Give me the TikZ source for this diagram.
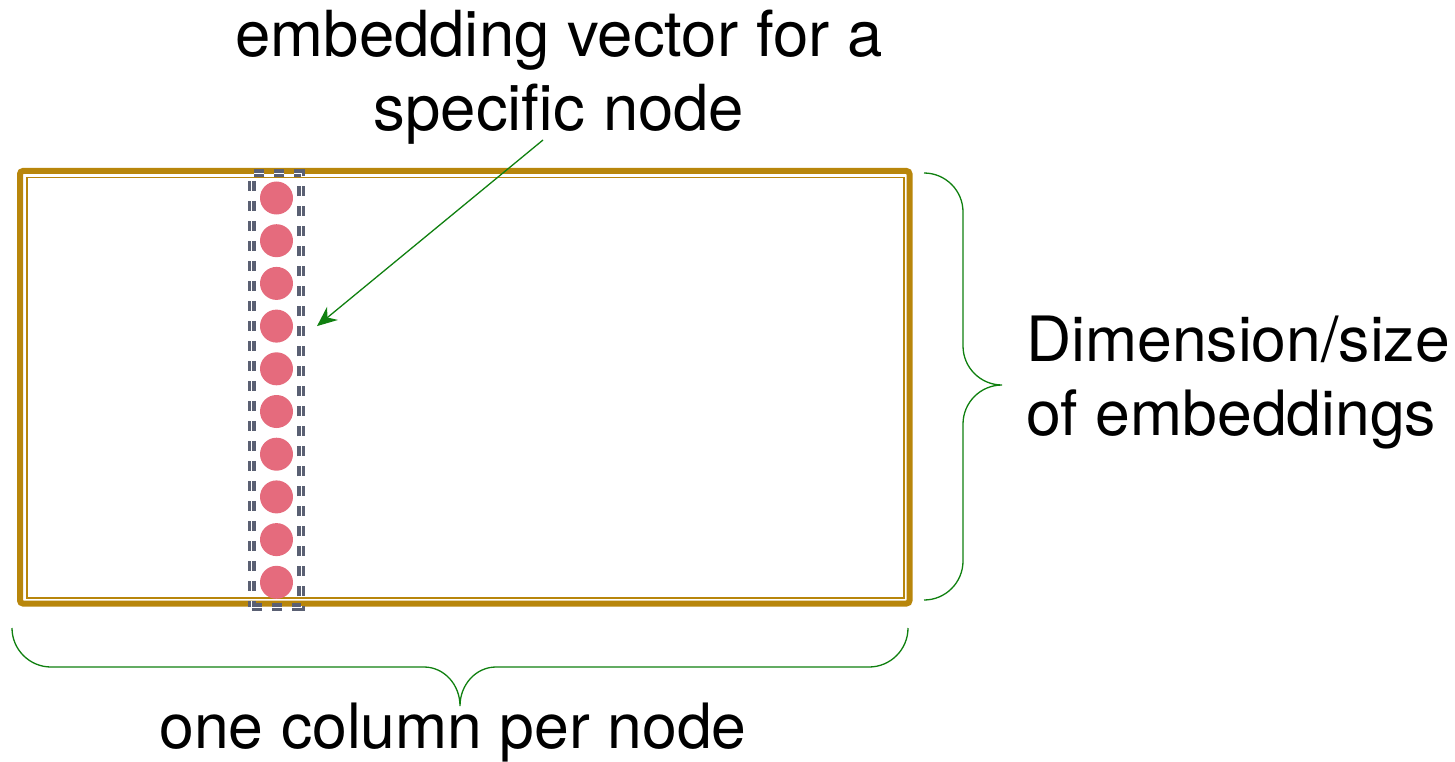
\documentclass[tikz,border=0pt]{standalone}
\usepackage{fontspec}
\setmainfont{TeX Gyre Heros}
\usepackage{xcolor}
\usetikzlibrary{arrows.meta, positioning, fit, calc}
\definecolor{matGold}  {RGB}{184,134,11}
\definecolor{dotRed}   {RGB}{229,107,125}
\definecolor{boxGray}  {RGB}{90,96,115}
\definecolor{noteGreen}{RGB}{16,128,16}

\tikzset{
    dot/.style={circle, fill=dotRed, minimum size=33pt, inner sep=0pt},
    colbox/.style={draw=boxGray, line width=3.6pt, double=white, double distance=0.8pt,
                   dash pattern=on 10pt off 10pt, inner sep=8pt},
    label/.style={font=\fontsize{62.5}{74}\selectfont, inner sep=0pt},
    pointer/.style={noteGreen, line width=1.3pt, -{Stealth[length=20pt, width=17pt]}},
    brace/.style={noteGreen, line width=1.3pt}
}

\begin{document}
\begin{tikzpicture}[x=1pt, y=-1pt]
        \useasboundingbox (0,0) rectangle (1455,762);
        % matrix frame
        \draw[matGold, line width=6pt, rounded corners=3pt] (20,171) rectangle (909.5,603.5);
        \draw[matGold, line width=1.5pt] (27,177.5) rectangle (904,598);
        % one column
        \foreach \i in {0,...,9}
            \node[dot] (c\i) at (276.5, 198+42.7*\i) {};
        \node[colbox, fit=(c0)(c9)] (col) {};
        % labels
        \node[label, font=\fontsize{63.5}{74}\selectfont, align=center, anchor=base] (vec) at (559,131) {embedding vector for a\\specific node};
        \node[label, align=left, anchor=base west] (dim) at (1026,435) {Dimension/size\\of embeddings};
        \node[label, anchor=base] (per) at (453,748) {one column per node};
        % arrow
        \coordinate (from) at (543,140);
        \coordinate (tip) at ($(col.east |- c3)+(14,0)$);
        \draw[pointer] (from) -- (tip);
        % braces
        \draw[brace] (924,173) .. controls (945.5,173) and (963,190.5) .. (963,212)
            -- (963,346) .. controls (963,367.5) and (980.5,385) .. (1002,385)
            .. controls (980.5,385) and (963,402.5) .. (963,424)
            -- (963,561) .. controls (963,582.5) and (945.5,600) .. (924,600);
        \draw[brace] (12,628) .. controls (12,649.5) and (29.5,667) .. (51,667)
            -- (424,667) .. controls (444,667) and (460,684.5) .. (460,706)
            .. controls (460,684.5) and (476,667) .. (496,667)
            -- (869,667) .. controls (890.5,667) and (908,649.5) .. (908,628);
    \end{tikzpicture}
\end{document}
